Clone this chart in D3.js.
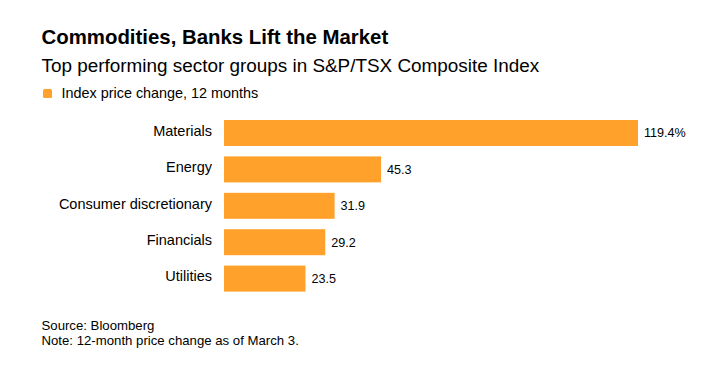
<!DOCTYPE html>
<html>
<head>
<meta charset="utf-8">
<script src="https://cdn.jsdelivr.net/npm/d3@7"></script>
<style>
  body { margin: 0; background: #fff; }
  svg { display: block; font-family: "Liberation Sans", Arial, sans-serif; }
</style>
</head>
<body>
<svg id="chart" width="718" height="370"></svg>
<script>
// data
const sectors = ["Materials", "Energy", "Consumer discretionary", "Financials", "Utilities"];
const changes = [119.4, 45.3, 31.9, 29.2, 23.5];
const valueLabels = ["119.4%", "45.3", "31.9", "29.2", "23.5"];

const title = "Commodities, Banks Lift the Market";
const subtitle = "Top performing sector groups in S&P/TSX Composite Index";
const legendText = "Index price change, 12 months";
const footnotes = ["Source: Bloomberg", "Note: 12-month price change as of March 3."];

const barColor = "#ffa12b";

const svg = d3.select("#chart");

svg.append("text")
    .attr("x", 41.5)
    .attr("y", 43.5)
    .attr("font-size", 20.4)
    .attr("font-weight", "bold")
    .attr("fill", "#000")
    .text(title);

svg.append("text")
    .attr("x", 41.5)
    .attr("y", 71.5)
    .attr("font-size", 18.9)
    .attr("fill", "#000")
    .text(subtitle);

// legend
const legend = svg.append("g");
legend.append("rect")
    .attr("x", 43)
    .attr("y", 89)
    .attr("width", 9)
    .attr("height", 9)
    .attr("rx", 1.5)
    .attr("fill", barColor);
legend.append("text")
    .attr("x", 61.5)
    .attr("y", 97.8)
    .attr("font-size", 14.4)
    .attr("fill", "#000")
    .text(legendText);

// scales
const x = d3.scaleLinear()
    .domain([0, 119.4])
    .range([224, 638]);

const y = d3.scaleBand()
    .domain(sectors)
    .range([120, 291.6])
    .paddingInner(0.286)
    .paddingOuter(0);

const bars = svg.append("g")
    .selectAll("g")
    .data(sectors)
    .enter().append("g");

bars.append("rect")
    .attr("x", x(0))
    .attr("y", d => y(d))
    .attr("width", (d, i) => x(changes[i]) - x(0))
    .attr("height", y.bandwidth())
    .attr("fill", barColor);

bars.append("text")
    .attr("x", x(0) - 12)
    .attr("y", d => y(d) + y.bandwidth() / 2 + 2.7)
    .attr("text-anchor", "end")
    .attr("font-size", 14.5)
    .attr("fill", "#000")
    .text(d => d);

bars.append("text")
    .attr("x", (d, i) => x(changes[i]) + 6)
    .attr("y", d => y(d) + y.bandwidth() / 2 + 4.3)
    .attr("font-size", 12.6)
    .attr("fill", "#000")
    .text((d, i) => valueLabels[i]);

// footer
svg.append("g")
    .selectAll("text")
    .data(footnotes)
    .enter().append("text")
    .attr("x", 41.5)
    .attr("y", (d, i) => 330 + i * 15)
    .attr("font-size", 13.2)
    .attr("fill", "#000")
    .text(d => d);
</script>
</body>
</html>
